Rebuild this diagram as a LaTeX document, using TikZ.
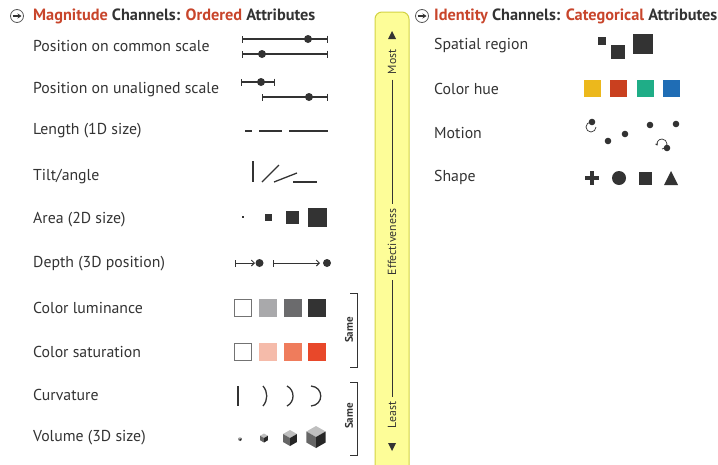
\documentclass[tikz,border=0pt]{standalone}
\usepackage{fontspec}
\setmainfont{PT Sans}
\usepackage{tikz}
\usetikzlibrary{arrows.meta,positioning}
\definecolor{magred}{HTML}{C8452B}
\definecolor{ink}{HTML}{333333}
\definecolor{barfill}{HTML}{FDFD98}
\definecolor{barline}{HTML}{D2D244}
\definecolor{lumA}{HTML}{A9A9AB}
\definecolor{lumB}{HTML}{6B6B6D}
\definecolor{satA}{HTML}{F5BBAA}
\definecolor{satB}{HTML}{EF7C5C}
\definecolor{satC}{HTML}{E8482A}
\definecolor{hueY}{HTML}{ECB81C}
\definecolor{hueR}{HTML}{C9401F}
\definecolor{hueG}{HTML}{1FAD87}
\definecolor{hueB}{HTML}{1F6DB5}
% isometric cube: centre x, centre y, half size
\newcommand\volcube[3]{%
  \fill[black!25] (#1,#2-#3) -- (#1+0.87*#3,#2-0.5*#3) -- (#1,#2) -- (#1-0.87*#3,#2-0.5*#3) -- cycle;
  \fill[black!60] (#1-0.87*#3,#2-0.5*#3) -- (#1,#2) -- (#1,#2+#3) -- (#1-0.87*#3,#2+0.5*#3) -- cycle;
  \fill[black!85] (#1,#2) -- (#1+0.87*#3,#2-0.5*#3) -- (#1+0.87*#3,#2+0.5*#3) -- (#1,#2+#3) -- cycle;}
% centred square: centre x, centre y, half size
\newcommand\sqbox[4][ink]{\fill[#1] (#2-#4,#3-#4) rectangle (#2+#4,#3+#4);}

\begin{document}
\begin{tikzpicture}[x=1pt,y=-1pt,
  lbl/.style={anchor=west,inner sep=0pt,text=ink,font=\fontsize{15.8}{18}\selectfont},
  hdr/.style={anchor=west,inner sep=0pt,text=ink,font=\fontsize{16.3}{19}\selectfont\bfseries},
  barlbl/.style={rotate=90,inner sep=5pt,text=ink,font=\fontsize{11.8}{14}\selectfont},
  samelbl/.style={rotate=90,inner sep=0pt,text=ink,font=\fontsize{11}{13}\selectfont\bfseries},
  ebar/.style={ink,line width=1.2pt,{Bar[width=7pt]}-{Bar[width=7pt]}},
  glyph/.style={ink,line width=1.3pt},
  icon/.style={ink,line width=1.1pt,-{Stealth[length=4pt,width=5pt]}}]
  \useasboundingbox (0,0) rectangle (718,464);

  % effectiveness bar
  \draw[barline,fill=barfill,line width=1pt,rounded corners=7pt] (375,475) -- (375,12) -- (409,12) -- (409,475);
  \node[barlbl] (most) at (392,62) {Most};
  \node[barlbl] (effect) at (392,242) {Effectiveness};
  \node[barlbl] (least) at (392,415) {Least};
  \draw[ink,line width=0.8pt] (most.west) -- (effect.east);
  \draw[ink,line width=0.8pt] (effect.west) -- (least.east);
  \fill[ink] (388,39) -- (396,39) -- (392,31) -- cycle;
  \fill[ink] (388,443) -- (396,443) -- (392,451) -- cycle;

  % headers
  \draw[black!65,line width=0.8pt] (17,16) circle (6.5);
  \draw[icon] (12.5,16) -- (21.5,16);
  \node[hdr] (maghdr) at (33,16) {\textcolor{magred}{Magnitude} Channels: \textcolor{magred}{Ordered} Attributes};
  \draw[black!65,line width=0.8pt] (422,16) circle (6.5);
  \draw[icon] (417.5,16) -- (426.5,16);
  \node[hdr] (idhdr) at (434,16) {\textcolor{magred}{Identity} Channels: \textcolor{magred}{Categorical} Attributes};

  % magnitude channels
  \node[lbl] (common) at (33,46) {Position on common scale};
  \draw[ebar] (242,39) -- (328,39);
  \fill[ink] (308,39) circle (4);
  \draw[ebar] (242,54) -- (328,54);
  \fill[ink] (262,54) circle (4);

  \node[lbl] (unaligned) at (33,90) {Position on unaligned scale};
  \draw[ebar] (241,82) -- (275,82);
  \fill[ink] (261,82) circle (4);
  \draw[ebar] (262,97) -- (328,97);
  \fill[ink] (309,97) circle (4);

  \node[lbl] (length) at (33,131) {Length (1D size)};
  \draw[glyph] (245,131) -- (252,131);
  \draw[glyph] (259,131) -- (282,131);
  \draw[glyph] (289,131) -- (328,131);

  \node[lbl] (tilt) at (33,177) {Tilt/angle};
  \draw[glyph] (253,161) -- (253,182);
  \draw[glyph] (262,182) -- (279,165);
  \draw[glyph] (274,182) -- (297,173);
  \draw[glyph] (293,182) -- (317,182);

  \node[lbl] (area) at (33,220) {Area (2D size)};
  \sqbox{243}{217}{1.2}
  \sqbox{268}{217}{3.5}
  \sqbox{292}{217}{6.5}
  \sqbox{317}{217}{9.5}

  \node[lbl] (depth) at (33,264) {Depth (3D position)};
  \draw[ink,line width=1pt,{Bar[width=7pt]}-{Straight Barb[length=3pt,width=6pt]}] (235,263) -- (255,263);
  \fill[ink] (259.5,263) circle (4);
  \draw[ink,line width=1pt,{Bar[width=7pt]}-{Straight Barb[length=3pt,width=6pt]}] (273,263) -- (320,263);
  \fill[ink] (327,263) circle (4);

  \node[lbl] (lumin) at (33,308) {Color luminance};
  \draw[black!55,line width=1pt] (234.5,299.5) rectangle (251.5,316.5);
  \sqbox[lumA]{268}{308}{9}
  \sqbox[lumB]{293}{308}{9}
  \sqbox[ink]{317}{308}{9}

  \node[lbl] (satur) at (33,352) {Color saturation};
  \draw[black!55,line width=1pt] (234.5,343.5) rectangle (251.5,360.5);
  \sqbox[satA]{268}{352}{9}
  \sqbox[satB]{293}{352}{9}
  \sqbox[satC]{317}{352}{9}

  \draw[ink,line width=1pt] (350,293) -- (357,293) -- (357,367) -- (350,367);
  \node[samelbl] (same1) at (349,330) {Same};

  \node[lbl] (curv) at (33,395) {Curvature};
  \draw[glyph] (238,386) -- (238,406);
  \draw[glyph] (263,386) .. controls (268,392) and (268,400) .. (263,406);
  \draw[glyph] (287,386) .. controls (295,390) and (295,402) .. (287,406);
  \draw[glyph] (311,386) .. controls (324,387) and (324,405) .. (311,406);

  \node[lbl] (volume) at (33,438) {Volume (3D size)};
  \volcube{240}{439}{2}
  \volcube{264}{438}{4.5}
  \volcube{290}{438}{8}
  \volcube{316}{437}{11}

  \draw[ink,line width=1pt] (350,382) -- (357,382) -- (357,455) -- (350,455);
  \node[samelbl] (same2) at (349,416) {Same};

  % identity channels
  \node[lbl] (spatial) at (434,46) {Spatial region};
  \sqbox{602}{41}{4}
  \sqbox{618}{52}{7}
  \sqbox{643}{44}{10}

  \node[lbl] (hue) at (434,89) {Color hue};
  \sqbox[hueY]{592}{88}{8.5}
  \sqbox[hueR]{618}{88}{8.5}
  \sqbox[hueG]{645}{88}{8.5}
  \sqbox[hueB]{671}{88}{8.5}

  \node[lbl] (motion) at (434,133) {Motion};
  \draw[ink,line width=0.7pt,-{Stealth[length=2.5pt,width=3pt]}] (596,127) arc (0:300:5);
  \fill[ink] (592,122) circle (3.3);
  \fill[ink] (608,141) circle (3.3);
  \fill[ink] (625,134) circle (3.3);
  \fill[ink] (650,125) circle (3.3);
  \fill[ink] (676,124) circle (3.3);
  \draw[ink,line width=0.7pt,-{Stealth[length=2.5pt,width=3pt]}] (662,149) arc (90:-200:5);
  \fill[ink] (667,148) circle (3.3);

  \node[lbl] (shape) at (434,177) {Shape};
  \fill[ink] (585,176) rectangle (599,180);
  \fill[ink] (590,171) rectangle (594,185);
  \fill[ink] (619,178) circle (7);
  \sqbox{645}{178}{6.5}
  \fill[ink] (664,185) -- (678,185) -- (671,171) -- cycle;
\end{tikzpicture}
\end{document}
